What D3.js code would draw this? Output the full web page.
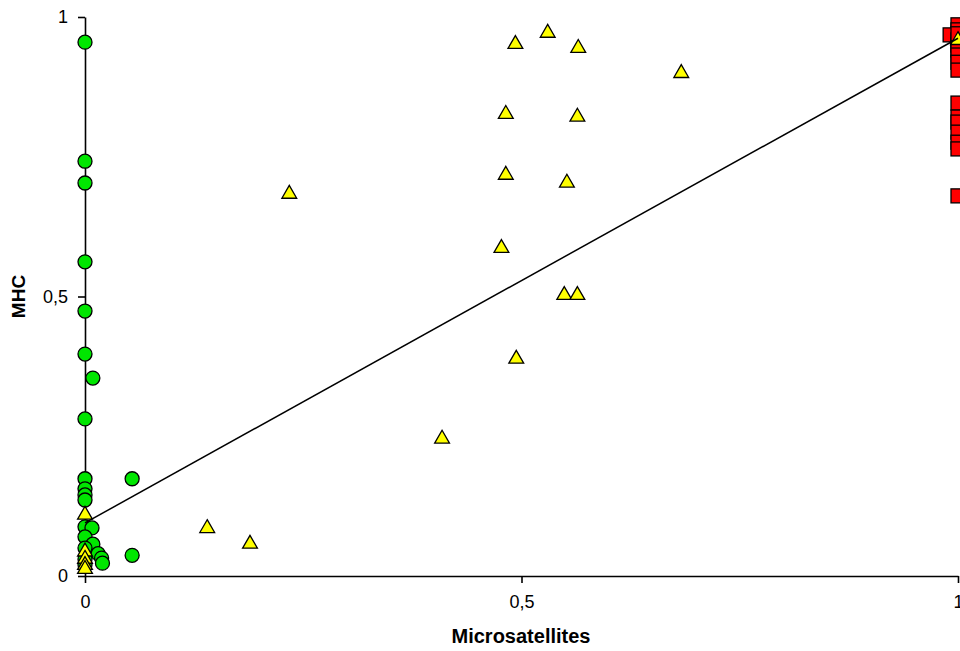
<!DOCTYPE html>
<html>
<head>
<meta charset="utf-8">
<script src="https://cdn.jsdelivr.net/npm/d3@7"></script>
<style>
  html, body { margin: 0; padding: 0; background: #fff; }
  svg { display: block; font-family: Arial, "Liberation Sans", sans-serif; }
</style>
</head>
<body>
<svg id="chart" width="960" height="651"></svg>
<script>
// ---- data (x = Microsatellites, y = MHC) ----
const greenX = [0, 0, 0, 0, 0, 0, 0.009, 0, 0, 0, 0, 0, 0.054, 0, 0.008, 0, 0.009, 0, 0.015, 0.019, 0.020, 0.054, 0, 0];
const greenY = [0.955, 0.742, 0.703, 0.562, 0.474, 0.397, 0.354, 0.281, 0.174, 0.156, 0.145, 0.136, 0.174, 0.088, 0.086, 0.070, 0.057, 0.050, 0.040, 0.032, 0.023, 0.037, 0.030, 0.020];

const redX = [1, 1, 0.991, 1, 1, 1, 1, 1, 1, 1, 1, 1, 1, 1, 1, 1, 1];
const redY = [0.986, 0.977, 0.968, 0.959, 0.950, 0.941, 0.932, 0.919, 0.905, 0.846, 0.821, 0.812, 0.794, 0.776, 0.764, 0.680, 0.970];

const yellowX = [0.530, 0.493, 0.565, 0.683, 0.482, 0.564, 0.482, 0.552, 0.477, 0.549, 0.564, 0.494, 0.234, 0.409, 0.140, 0.189, 0, 0, 0, 0, 0, 1];
const yellowY = [0.975, 0.955, 0.948, 0.903, 0.830, 0.825, 0.721, 0.707, 0.590, 0.506, 0.506, 0.392, 0.687, 0.249, 0.089, 0.061, 0.113, 0.047, 0.034, 0.023, 0.016, 0.962];

// regression line end points
const fitX = [0, 1];
const fitY = [0.095, 0.962];

const xTicks = [0, 0.5, 1];
const xTickLabels = ["0", "0,5", "1"];
const yTicks = [0, 0.5, 1];
const yTickLabels = ["0", "0,5", "1"];

const xTitle = "Microsatellites";
const yTitle = "MHC";

// ---- drawing ----
const svg = d3.select("#chart");
const x = d3.scaleLinear().domain([0, 1]).range([85, 958]);
const y = d3.scaleLinear().domain([0, 1]).range([576, 17]);

const toPts = (xs, ys) => xs.map((v, i) => ({ x: v, y: ys[i] }));

// axes
const xAxis = d3.axisBottom(x).tickValues(xTicks)
  .tickFormat((d, i) => xTickLabels[i]).tickSize(7).tickSizeOuter(0).tickPadding(12);
const yAxis = d3.axisLeft(y).tickValues(yTicks)
  .tickFormat((d, i) => yTickLabels[i]).tickSize(7).tickSizeOuter(0).tickPadding(10);

const gx = svg.append("g").attr("transform", `translate(0,${y(0)})`).call(xAxis);
const gy = svg.append("g").attr("transform", `translate(${x(0)},0)`).call(yAxis);
[gx, gy].forEach(g => {
  g.selectAll("path, line").attr("stroke", "#000").attr("stroke-width", 1.6);
  g.selectAll("text").attr("fill", "#000").style("font-size", "18px");
});

// axis titles
svg.append("text")
  .attr("x", 521).attr("y", 643)
  .attr("text-anchor", "middle")
  .style("font-size", "20px").style("font-weight", "bold")
  .text(xTitle);
svg.append("text")
  .attr("transform", `translate(25,${y(0.5)}) rotate(-90)`)
  .attr("text-anchor", "middle")
  .style("font-size", "19px").style("font-weight", "bold")
  .text(yTitle);

// green circles
svg.append("g").selectAll("circle")
  .data(toPts(greenX, greenY)).join("circle")
  .attr("cx", d => x(d.x)).attr("cy", d => y(d.y)).attr("r", 7)
  .attr("fill", "#00e600").attr("stroke", "#000").attr("stroke-width", 1.3);

// red squares
svg.append("g").selectAll("rect")
  .data(toPts(redX, redY)).join("rect")
  .attr("x", d => x(d.x) - 7).attr("y", d => y(d.y) - 7)
  .attr("width", 14).attr("height", 14)
  .attr("fill", "#ff0000").attr("stroke", "#000").attr("stroke-width", 1.3);

// yellow triangles (shifted so the bounding box, not the centroid, sits on the value)
const tri = d3.symbol().type(d3.symbolTriangle).size(95);
svg.append("g").selectAll("path")
  .data(toPts(yellowX, yellowY)).join("path")
  .attr("transform", d => `translate(${x(d.x)},${y(d.y) + 2})`)
  .attr("d", tri)
  .attr("fill", "#ffff00").attr("stroke", "#000").attr("stroke-width", 1.3);

// regression line
svg.append("path")
  .datum(toPts(fitX, fitY))
  .attr("d", d3.line().x(d => x(d.x)).y(d => y(d.y)))
  .attr("fill", "none").attr("stroke", "#000").attr("stroke-width", 1.5);
</script>
</body>
</html>
